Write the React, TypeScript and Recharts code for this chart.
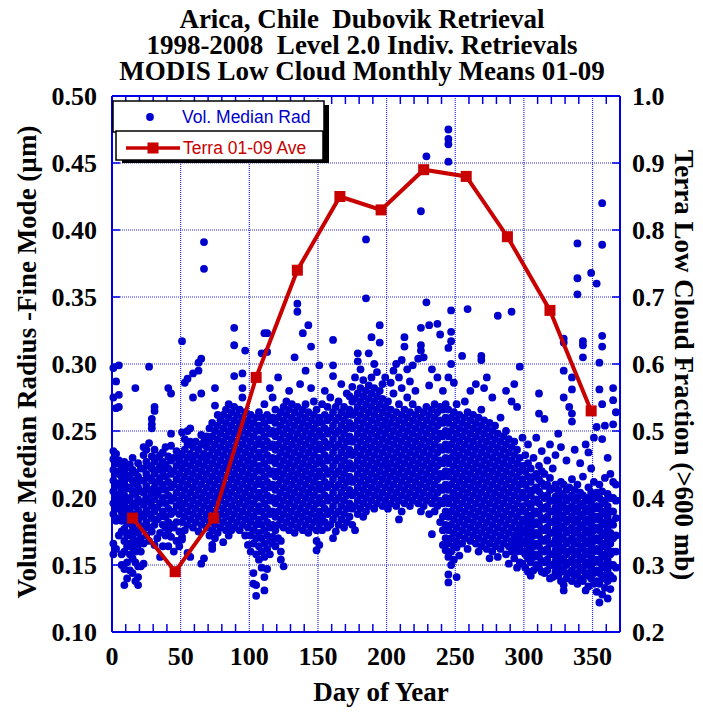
import React from 'react'
import { ScatterChart, Scatter, XAxis, YAxis, CartesianGrid, ReferenceLine } from 'recharts'

// retrievals, one row per day: [day, radius values...]
const colsJanFeb: number[][] = [
  [1, .158, .166, .188, .196, .205, .213, .221, .229, .235, .297, .275],
  [3, .162, .183, .192, .200, .209, .218, .226, .233, .287, .267],
  [5, .172, .185, .195, .203, .211, .220, .228, .277, .299, .268],
  [7, .150, .158, .175, .183, .190, .199, .207, .216, .224],
  [9, .135, .147, .160, .168, .177, .186, .194, .202, .211, .219, .227],
  [11, .140, .152, .164, .172, .181, .190, .198, .207, .215, .223],
  [13, .146, .158, .166, .174, .183, .192, .200, .208, .217, .225],
  [15, .144, .155, .163, .171, .179, .188, .196, .205, .213, .221, .230],
  [17, .138, .152, .160, .168, .176, .185, .194, .203, .211, .219, .282],
  [19, .135, .141, .149, .165, .174, .183, .191, .199, .208, .216, .226],
  [21, .149, .160, .170, .179, .188, .197, .205, .213, .222],
  [23, .151, .166, .177, .186, .195, .204, .213, .222, .232, .238],
  [25, .172, .182, .191, .200, .209, .218, .227, .236],
  [27, .168, .178, .188, .197, .206, .215, .224, .241, .298],
  [29, .175, .185, .194, .203, .213, .222, .231, .252, .255, .259],
  [31, .165, .180, .190, .199, .208, .218, .227, .236, .265, .268],
  [33, .170, .184, .193, .203, .212, .221, .230],
  [35, .156, .174, .186, .196, .206, .215, .224, .232],
  [37, .164, .180, .190, .200, .210, .220, .227, .234],
  [39, .172, .178, .186, .196, .206, .216, .225, .238],
  [41, .164, .176, .182, .192, .202, .212, .222, .231, .282],
  [43, .171, .180, .188, .198, .208, .218, .228, .239, .248, .278],
  [45, .160, .178, .190, .200, .210, .220, .230],
  [47, .168, .182, .194, .204, .214, .224, .235],
  [49, .164, .175, .188, .198, .208, .218, .228, .233],
  [51, .169, .171, .182, .192, .202, .212, .222, .232, .249, .317],
  [53, .176, .186, .196, .206, .216, .226, .236, .244, .286],
  [55, .159, .180, .190, .200, .210, .220, .230, .240, .250, .289],
  [57, .156, .184, .194, .204, .214, .224, .233, .242, .252],
  [59, .178, .188, .198, .208, .218, .228, .238, .275, .293],
]

const colsMarApr: number[][] = [
  [61, .182, .192, .202, .212, .222, .232, .242],
  [63, .175, .186, .196, .206, .216, .226, .236, .295, .301],
  [65, .151, .180, .190, .200, .210, .220, .230, .240, .247, .278, .304],
  [67, .155, .184, .194, .204, .214, .224, .233, .242, .371, .391],
  [69, .178, .188, .198, .208, .218, .228, .238, .246],
  [71, .172, .182, .192, .202, .212, .222, .232, .242, .252],
  [73, .162, .165, .176, .186, .196, .206, .216, .226, .236, .246, .256],
  [75, .170, .180, .190, .200, .210, .220, .230, .240, .250, .269, .282],
  [77, .174, .184, .194, .204, .214, .224, .234, .244, .254, .262],
  [79, .178, .188, .198, .208, .218, .228, .238, .248, .258],
  [81, .167, .182, .192, .202, .212, .222, .232, .242, .252, .262],
  [83, .176, .186, .196, .206, .216, .226, .236, .246, .256, .266],
  [85, .172, .180, .190, .200, .210, .220, .230, .240, .250, .260, .270],
  [87, .176, .184, .194, .204, .214, .224, .234, .244, .254, .264],
  [89, .178, .188, .198, .208, .218, .228, .238, .248, .258, .268, .291, .314, .327],
  [91, .182, .192, .202, .212, .222, .232, .242, .252, .262],
  [93, .176, .186, .196, .206, .216, .226, .236, .246, .256, .266],
  [95, .180, .190, .200, .210, .220, .230, .240, .250, .260, .275, .282, .293],
  [97, .172, .184, .194, .204, .214, .224, .234, .244, .254, .264, .310],
  [99, .165, .178, .188, .198, .208, .218, .228, .238, .248, .258],
  [101, .160, .172, .182, .192, .202, .212, .222, .232, .242, .252, .262],
  [103, .136, .144, .166, .176, .186, .196, .206, .216, .226, .236, .246, .256],
  [105, .127, .135, .158, .170, .180, .190, .200, .210, .220, .230, .240, .250, .260],
  [107, .154, .164, .174, .184, .194, .204, .214, .224, .234, .244, .254, .264],
  [109, .148, .160, .170, .180, .190, .200, .210, .220, .230, .240, .250, .260, .308],
  [111, .131, .141, .156, .166, .176, .186, .196, .206, .216, .226, .236, .246, .256, .270, .323],
  [113, .147, .162, .172, .182, .192, .202, .212, .222, .232, .242, .252, .262, .309, .323],
  [115, .158, .168, .178, .188, .198, .208, .218, .228, .238, .248, .258, .282],
  [117, .166, .171, .180, .190, .200, .210, .220, .230, .240, .250, .260, .275],
  [119, .164, .176, .186, .196, .206, .216, .226, .236, .246, .256, .266],
]

const colsMayJun: number[][] = [
  [121, .170, .180, .190, .200, .210, .220, .230, .240, .250, .260, .290],
  [123, .154, .160, .168, .184, .194, .204, .214, .224, .234, .244, .254, .264],
  [125, .149, .178, .188, .198, .208, .218, .228, .238, .248, .258, .268],
  [127, .182, .192, .202, .212, .222, .232, .242, .252, .262, .272],
  [129, .176, .186, .196, .206, .216, .226, .236, .246, .256, .266, .280],
  [131, .180, .190, .200, .210, .220, .230, .240, .250, .260, .270],
  [133, .174, .184, .194, .204, .214, .224, .234, .244, .254, .264, .305],
  [135, .178, .188, .198, .208, .218, .228, .238, .248, .258, .268, .339, .345],
  [137, .182, .192, .202, .212, .222, .232, .242, .252, .262, .285],
  [139, .176, .186, .196, .206, .216, .226, .236, .246, .256, .266, .323],
  [141, .180, .190, .200, .210, .220, .230, .240, .250, .260, .270, .295],
  [143, .174, .184, .194, .204, .214, .224, .234, .244, .254, .264, .329],
  [145, .178, .188, .198, .208, .218, .228, .238, .248, .258, .313, .282],
  [147, .182, .192, .202, .212, .222, .232, .242, .252, .262, .272],
  [149, .161, .168, .176, .186, .196, .206, .216, .226, .236, .246, .256, .266],
  [151, .165, .181, .190, .200, .210, .220, .230, .240, .250, .260, .299],
  [153, .176, .186, .196, .206, .216, .226, .236, .246, .256, .270],
  [155, .182, .192, .202, .212, .222, .232, .242, .252, .262, .280],
  [157, .178, .188, .198, .208, .218, .228, .238, .248, .258, .268],
  [159, .180, .190, .200, .210, .220, .230, .240, .250, .260, .275],
  [161, .170, .184, .194, .204, .214, .224, .234, .244, .254, .264, .291, .299, .318],
  [163, .175, .188, .198, .208, .218, .228, .238, .248, .258, .268],
  [165, .180, .190, .200, .210, .220, .230, .240, .250, .260, .272],
  [167, .184, .194, .204, .214, .224, .234, .244, .254, .264, .285],
  [169, .178, .188, .198, .208, .218, .228, .238, .248, .258, .268],
  [171, .182, .192, .202, .212, .222, .232, .242, .252, .262, .278],
  [173, .186, .196, .206, .216, .226, .236, .246, .256, .266, .276],
  [175, .180, .192, .202, .212, .222, .232, .242, .252, .262, .272, .283],
  [177, .176, .194, .204, .214, .224, .234, .244, .254, .264, .274, .290],
  [179, .188, .198, .208, .218, .228, .238, .248, .258, .268, .278, .302, .308],
]

const colsJulAug: number[][] = [
  [181, .192, .202, .212, .222, .232, .242, .252, .262, .272, .282, .296],
  [183, .186, .196, .206, .216, .226, .236, .246, .256, .266, .276, .288],
  [185, .190, .200, .210, .220, .230, .240, .250, .260, .270, .280, .349, .393],
  [187, .194, .204, .214, .224, .234, .244, .254, .264, .274, .284, .308],
  [189, .198, .208, .218, .228, .238, .248, .258, .268, .278, .290, .320],
  [191, .192, .202, .212, .222, .232, .242, .252, .262, .272, .282, .300],
  [193, .196, .206, .216, .226, .236, .246, .256, .266, .276, .294],
  [195, .200, .210, .220, .230, .240, .250, .260, .270, .280, .316, .329],
  [197, .194, .204, .214, .224, .234, .244, .254, .264, .274, .285],
  [199, .198, .208, .218, .228, .238, .248, .258, .268, .290],
  [201, .192, .202, .212, .222, .232, .242, .252, .262, .272],
  [203, .196, .206, .216, .226, .236, .246, .256, .266, .286],
  [205, .200, .210, .220, .230, .240, .250, .260, .278, .295],
  [207, .194, .204, .214, .224, .234, .244, .254, .264, .300],
  [209, .184, .198, .208, .218, .228, .238, .248, .258, .270, .290],
  [211, .190, .202, .212, .222, .232, .242, .252, .262, .282, .303],
  [213, .196, .206, .216, .226, .236, .246, .256, .266, .313, .320],
  [215, .200, .210, .220, .230, .240, .250, .260, .275, .296],
  [217, .194, .204, .214, .224, .234, .244, .254, .264, .287],
  [219, .198, .208, .218, .228, .238, .248, .258, .270, .299],
  [221, .202, .212, .222, .232, .242, .252, .262, .280],
  [223, .196, .206, .216, .226, .236, .246, .256, .266, .304],
  [225, .190, .200, .210, .220, .230, .240, .250, .260, .310, .314, .327, .414],
  [227, .194, .204, .214, .224, .234, .244, .254, .264, .305],
  [229, .198, .208, .218, .228, .238, .248, .258, .268, .346, .455],
  [231, .188, .202, .212, .222, .232, .242, .252, .262, .284, .329],
  [233, .173, .196, .206, .216, .226, .236, .246, .256, .266, .296],
  [235, .190, .200, .210, .220, .230, .240, .250, .260, .270],
  [237, .194, .204, .214, .224, .234, .244, .254, .264, .290, .330],
  [239, .182, .198, .208, .218, .228, .238, .248, .258, .268, .322],
]

const colsSepOct: number[][] = [
  [241, .165, .176, .186, .196, .206, .216, .226, .236, .246, .256, .266, .280],
  [243, .161, .170, .180, .190, .200, .210, .220, .230, .240, .250, .260, .270],
  [245, .137, .143, .156, .166, .176, .186, .196, .206, .216, .226, .236, .246, .256, .266, .290, .312, .451, .464, .468, .475],
  [247, .150, .160, .170, .180, .190, .200, .210, .220, .230, .240, .250, .260, .300, .317, .324, .340],
  [249, .154, .164, .174, .184, .194, .204, .214, .224, .234, .244, .254, .264, .286],
  [251, .141, .163, .168, .178, .188, .198, .208, .218, .228, .238, .248, .258, .270],
  [253, .157, .172, .182, .192, .202, .212, .222, .232, .242, .252, .262],
  [255, .166, .176, .186, .196, .206, .216, .226, .236, .246, .256, .306],
  [257, .170, .180, .190, .200, .210, .220, .230, .240, .250, .260, .272],
  [259, .162, .174, .184, .194, .204, .214, .224, .234, .244, .254, .264, .341],
  [261, .168, .178, .188, .198, .208, .218, .228, .238, .248, .258, .280],
  [263, .172, .182, .192, .202, .212, .222, .232, .242, .252, .262],
  [265, .166, .176, .186, .196, .206, .216, .226, .236, .246, .256, .285],
  [267, .160, .170, .180, .190, .200, .210, .220, .230, .240, .250, .260],
  [269, .164, .174, .184, .194, .204, .214, .224, .234, .244, .254, .266, .303, .306],
  [271, .168, .178, .188, .198, .208, .218, .228, .238, .248, .258, .282],
  [273, .162, .172, .182, .192, .202, .212, .222, .232, .242, .252, .290],
  [275, .155, .166, .176, .186, .196, .206, .216, .226, .236, .246, .256],
  [277, .160, .170, .180, .190, .200, .210, .220, .230, .240, .250, .275],
  [279, .164, .174, .184, .194, .204, .214, .224, .234, .244, .254],
  [281, .156, .168, .178, .188, .198, .208, .218, .228, .238, .248, .336],
  [283, .162, .172, .182, .192, .202, .212, .222, .232, .242, .260],
  [285, .166, .176, .186, .196, .206, .216, .226, .236, .246],
  [287, .158, .170, .180, .190, .200, .210, .220, .230, .240, .250, .280],
  [289, .151, .164, .174, .184, .194, .204, .214, .224, .234, .244],
  [291, .160, .168, .178, .188, .198, .208, .218, .228, .238, .272, .339],
  [293, .155, .164, .172, .182, .192, .202, .212, .222, .232, .242, .285],
  [295, .148, .160, .168, .176, .186, .196, .206, .216, .226, .236, .268],
  [297, .152, .164, .172, .180, .190, .200, .210, .220, .230, .298],
  [299, .151, .160, .168, .176, .184, .194, .204, .214, .224, .245],
]

const colsNovDec: number[][] = [
  [301, .148, .158, .166, .174, .182, .190, .200, .210, .220, .232],
  [303, .145, .155, .163, .171, .179, .187, .196, .206, .216, .226, .240],
  [305, .142, .152, .160, .168, .176, .184, .193, .202, .212, .222],
  [307, .146, .156, .164, .172, .180, .188, .197, .206, .216, .230],
  [309, .150, .158, .166, .174, .182, .190, .199, .208, .218, .245],
  [311, .148, .156, .164, .172, .180, .188, .196, .205, .214, .224, .263, .278],
  [313, .145, .153, .161, .169, .177, .185, .193, .202, .211, .220, .235],
  [315, .144, .152, .160, .168, .176, .184, .192, .200, .209, .218, .259],
  [317, .146, .154, .162, .170, .178, .186, .194, .202, .210, .228],
  [319, .140, .150, .158, .166, .174, .182, .190, .198, .206, .215, .240],
  [321, .141, .150, .158, .166, .174, .182, .190, .198, .207, .222],
  [323, .145, .153, .161, .169, .177, .185, .193, .201, .210, .232],
  [325, .142, .150, .158, .166, .174, .182, .190, .198, .206, .248],
  [327, .138, .147, .155, .163, .171, .179, .187, .195, .203, .212, .238],
  [329, .131, .135, .145, .153, .161, .169, .177, .185, .193, .201, .210, .275, .295, .316, .319],
  [331, .140, .150, .158, .166, .174, .182, .190, .198, .206, .228],
  [333, .144, .152, .160, .168, .176, .184, .192, .200, .208, .268],
  [335, .138, .146, .154, .162, .170, .178, .186, .194, .202, .214, .257, .263, .281, .290],
  [337, .142, .150, .158, .166, .174, .182, .190, .198, .206, .236],
  [339, .136, .144, .152, .160, .168, .176, .184, .192, .200, .210, .352, .364, .390],
  [341, .140, .148, .156, .164, .172, .180, .188, .196, .204, .226],
  [343, .138, .146, .154, .162, .170, .178, .186, .194, .202, .216, .305, .314, .317],
  [345, .131, .142, .150, .158, .166, .174, .182, .190, .198, .240],
  [347, .134, .144, .152, .160, .168, .176, .184, .192, .200, .208, .234],
  [349, .140, .148, .156, .164, .172, .180, .188, .196, .204, .222, .368],
  [351, .136, .144, .152, .160, .168, .176, .184, .192, .200, .212, .245],
  [353, .130, .138, .146, .154, .162, .170, .178, .186, .194, .204, .253, .360],
  [355, .122, .136, .144, .152, .160, .168, .176, .184, .192, .200, .210, .281, .301],
  [357, .128, .140, .148, .156, .164, .172, .180, .188, .196, .205, .244, .270, .313, .321, .389, .420],
  [359, .133, .142, .150, .158, .166, .174, .182, .190, .198, .215, .254],
  [361, .125, .138, .146, .154, .162, .170, .178, .186, .194, .203, .230],
  [363, .132, .142, .150, .158, .166, .174, .182, .190, .200, .218],
  [365, .140, .150, .160, .170, .180, .190, .200, .212, .255, .273, .282],
  [367, .148, .160, .172, .185, .198, .210, .264],
]

// MODIS Terra monthly means
const terraDays = [15, 46, 74, 105, 135, 166, 196, 227, 258, 288, 319, 349]
const terraFrac = [0.37, 0.29, 0.37, 0.58, 0.74, 0.85, 0.83, 0.89, 0.88, 0.79, 0.68, 0.53]

const xTicks = [0, 50, 100, 150, 200, 250, 300, 350]
const leftTicks = [0.1, 0.15, 0.2, 0.25, 0.3, 0.35, 0.4, 0.45, 0.5]
const rightTicks = [0.2, 0.3, 0.4, 0.5, 0.6, 0.7, 0.8, 0.9, 1.0]

const radiusPoints = [...colsJanFeb, ...colsMarApr, ...colsMayJun, ...colsJulAug, ...colsSepOct, ...colsNovDec]
  .flatMap(([day, ...vals]) => vals.map((v) => ({ day, v })))
const terraPoints = terraDays.map((day, i) => ({ day, frac: terraFrac[i] }))

const BLUE = '#0000cc'
const FRAME = '#0000e6'
const RED = '#c80000'
const serif = '"Liberation Serif", "Times New Roman", serif'
const sans = '"Liberation Sans", Arial, sans-serif'
const tickFont = { fill: '#000', fontSize: 26, fontWeight: 700, fontFamily: serif }

const minorX = Array.from({ length: 37 }, (_, i) => i * 10).filter((d) => d % 50 !== 0)
const tickLenX = 8 / 1.3734
const tickLenY = 8 / 1340

const Dot = (p: any) => <circle cx={p.cx} cy={p.cy} r={3.9} fill={BLUE} />
const Square = (p: any) => <rect x={p.cx - 5.5} y={p.cy - 5.5} width={11} height={11} fill={RED} />

export default function App() {
  return (
    <div style={{ position: 'absolute', left: 0, top: 0, width: 703, height: 713, background: '#fff' }}>
      <ScatterChart width={703} height={713} margin={{ top: 96, right: 0, bottom: 0, left: 0 }}>
        <CartesianGrid yAxisId="left" stroke="#2a2ae0" strokeDasharray="1 1" strokeWidth={1.2} />
        <XAxis
          type="number"
          dataKey="day"
          domain={[0, 370]}
          ticks={xTicks}
          interval={0}
          height={81}
          tick={tickFont}
          tickLine={false}
          tickSize={0}
          tickMargin={15}
          axisLine={{ stroke: FRAME, strokeWidth: 2 }}
        />
        <YAxis
          yAxisId="left"
          type="number"
          dataKey="v"
          domain={[0.1, 0.5]}
          ticks={leftTicks}
          interval={0}
          width={112}
          tick={tickFont}
          tickLine={false}
          tickSize={0}
          tickMargin={15}
          tickFormatter={(v: number) => v.toFixed(2)}
          axisLine={{ stroke: FRAME, strokeWidth: 2 }}
        />
        <YAxis
          yAxisId="right"
          orientation="right"
          type="number"
          dataKey="frac"
          domain={[0.2, 1.0]}
          ticks={rightTicks}
          interval={0}
          width={83}
          tick={tickFont}
          tickLine={false}
          tickSize={0}
          tickMargin={12}
          tickFormatter={(v: number) => v.toFixed(1)}
          axisLine={{ stroke: FRAME, strokeWidth: 2 }}
        />
        <ReferenceLine yAxisId="left" y={0.5} stroke={FRAME} strokeWidth={2} />
        {minorX.map((d) => (
          <ReferenceLine key={'b' + d} yAxisId="left" segment={[{ x: d, y: 0.1 }, { x: d, y: 0.1 + tickLenY }]} stroke={FRAME} strokeWidth={1.5} />
        ))}
        {minorX.map((d) => (
          <ReferenceLine key={'t' + d} yAxisId="left" segment={[{ x: d, y: 0.5 - tickLenY }, { x: d, y: 0.5 }]} stroke={FRAME} strokeWidth={1.5} />
        ))}
        {leftTicks.map((t) => (
          <ReferenceLine key={'l' + t} yAxisId="left" segment={[{ x: 0, y: t }, { x: tickLenX, y: t }]} stroke={FRAME} strokeWidth={1.5} />
        ))}
        {leftTicks.map((t) => (
          <ReferenceLine key={'r' + t} yAxisId="left" segment={[{ x: 370 - tickLenX, y: t }, { x: 370, y: t }]} stroke={FRAME} strokeWidth={1.5} />
        ))}
        <Scatter yAxisId="left" data={radiusPoints} shape={Dot} isAnimationActive={false} />
        <Scatter
          yAxisId="right"
          data={terraPoints}
          shape={Square}
          line={{ stroke: RED, strokeWidth: 4 }}
          lineType="joint"
          isAnimationActive={false}
        />
      </ScatterChart>

      <svg width={703} height={713} style={{ position: 'absolute', left: 0, top: 0, pointerEvents: 'none' }}>
        <g fontFamily={serif} fontWeight={700} fontSize={27} textAnchor="middle" fill="#000">
          <text x={362} y={28} style={{ whiteSpace: 'pre' }}>Arica, Chile  Dubovik Retrieval</text>
          <text x={362} y={54} style={{ whiteSpace: 'pre' }}>1998-2008  Level 2.0 Indiv. Retrievals</text>
          <text x={362} y={80}>MODIS Low Cloud Monthly Means 01-09</text>
          <text x={381} y={701}>Day of Year</text>
          <text transform="translate(36,362) rotate(-90)">Volume Median Radius -Fine Mode (µm)</text>
          <text transform="translate(675,365) rotate(90)">Terra Low Cloud Fraction (&gt;600 mb)</text>
        </g>
        <rect x={118} y={105} width={211} height={31} fill="#000" />
        <rect x={113} y={101} width={211} height={31} fill="#fff" stroke="#000" strokeWidth={1.5} />
        <circle cx={150} cy={117} r={3.9} fill={BLUE} />
        <text x={182} y={123} fontFamily={sans} fontSize={17.5} fill={BLUE}>Vol. Median Rad</text>
        <rect x={122} y={135} width={207} height={28} fill="#000" />
        <rect x={116} y={131} width={207} height={29} fill="#fff" stroke="#000" strokeWidth={1.5} />
        <line x1={126} y1={148} x2={180} y2={148} stroke={RED} strokeWidth={3.5} />
        <rect x={147.5} y={142.5} width={11} height={11} fill={RED} />
        <text x={183} y={154} fontFamily={sans} fontSize={17.5} fill={RED}>Terra 01-09 Ave</text>
      </svg>
    </div>
  )
}
